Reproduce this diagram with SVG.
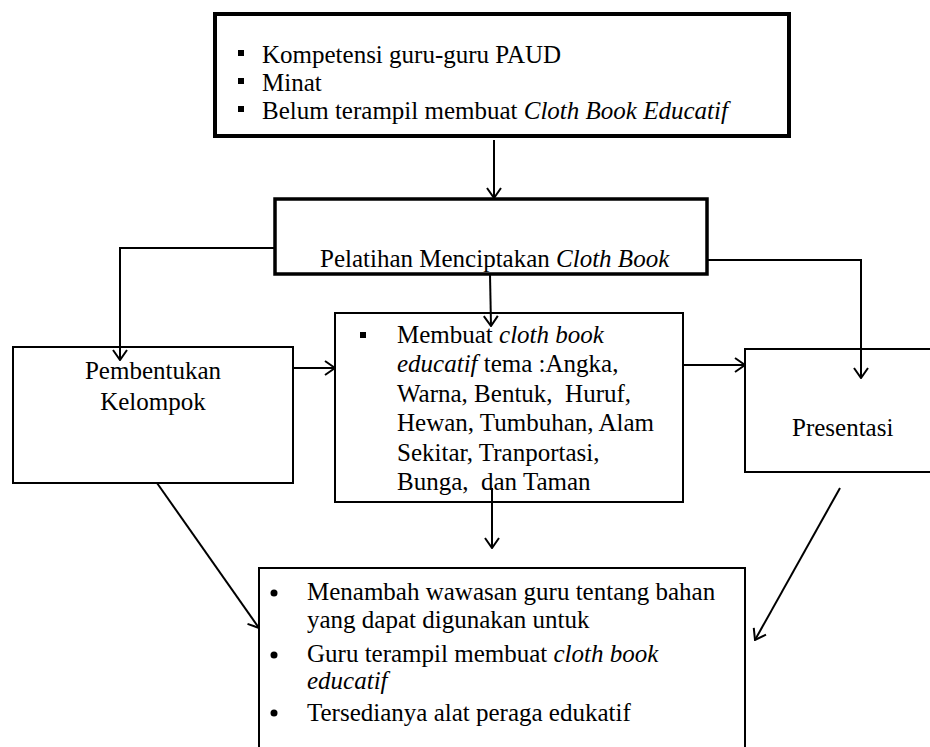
<svg xmlns="http://www.w3.org/2000/svg" width="930" height="747" viewBox="0 0 930 747">
<style>
  text { font-size: 25px; fill: #000; white-space: pre; }
  .i { font-style: italic; }
  .box { fill: #fff; stroke: #000; }
  .c { fill: none; stroke: #000; stroke-width: 2; }
</style>
<defs>
  <marker id="ah" viewBox="0 0 12 16" refX="11" refY="8" markerWidth="12" markerHeight="16" markerUnits="userSpaceOnUse" orient="auto">
    <path d="M1,1 L11,8 L1,15" fill="none" stroke="#000" stroke-width="2"/>
  </marker>
</defs>
<rect width="930" height="747" fill="#fff"/>

<g font-family="Liberation Serif">
<g id="node-masalah">
  <rect class="box" x="215" y="14" width="574" height="122" stroke-width="4"/>
  <rect x="238" y="50" width="6" height="6"/>
  <rect x="238" y="78" width="6" height="6"/>
  <rect x="238" y="106" width="6" height="6"/>
  <text x="262" y="63">Kompetensi guru-guru PAUD</text>
  <text x="262" y="91">Minat</text>
  <text x="262" y="119" xml:space="preserve">Belum terampil membuat <tspan class="i" font-family="serif">Cloth Book Educatif</tspan></text>
</g>

<g id="node-pelatihan">
  <rect class="box" x="275" y="199" width="432" height="75" stroke-width="3.5"/>
  <text x="320" y="267" xml:space="preserve">Pelatihan Menciptakan <tspan class="i" font-family="serif">Cloth Book</tspan></text>
</g>

<g id="node-pembentukan">
  <rect class="box" x="13" y="347" width="280" height="136" stroke-width="2"/>
  <text x="153" y="379" text-anchor="middle">Pembentukan</text>
  <text x="153" y="410" text-anchor="middle">Kelompok</text>
</g>

<g id="node-membuat">
  <rect class="box" x="335" y="313" width="348" height="189" stroke-width="2"/>
  <rect x="360" y="332" width="6" height="6"/>
  <text x="397" y="343" xml:space="preserve">Membuat <tspan class="i" font-family="serif">cloth book</tspan></text>
  <text x="397" y="372" xml:space="preserve"><tspan class="i" font-family="serif">educatif</tspan> tema :Angka,</text>
  <text x="397" y="402" xml:space="preserve">Warna, Bentuk,  Huruf,</text>
  <text x="397" y="431">Hewan, Tumbuhan, Alam</text>
  <text x="397" y="461">Sekitar, Tranportasi,</text>
  <text x="397" y="490" xml:space="preserve">Bunga,  dan Taman</text>
</g>

<g id="node-presentasi">
  <rect class="box" x="745" y="349" width="200" height="123" stroke-width="2"/>
  <text x="792" y="436">Presentasi</text>
</g>

<g id="node-hasil">
  <rect class="box" x="259" y="568" width="486" height="200" stroke-width="2"/>
  <circle cx="274" cy="593" r="3.5"/>
  <circle cx="274" cy="655" r="3.5"/>
  <circle cx="274" cy="713" r="3.5"/>
  <text x="307" y="600">Menambah wawasan guru tentang bahan</text>
  <text x="307" y="628">yang dapat digunakan untuk</text>
  <text x="307" y="662" xml:space="preserve">Guru terampil membuat <tspan class="i" font-family="serif">cloth book</tspan></text>
  <text class="i" font-family="serif" x="307" y="689">educatif</text>
  <text x="307" y="721">Tersedianya alat peraga edukatif</text>
</g>
</g>

<g id="connectors">
  <line class="c" x1="494" y1="140" x2="494" y2="198" marker-end="url(#ah)"/>
  <polyline class="c" points="275,248 120,248 120,360" marker-end="url(#ah)"/>
  <polyline class="c" points="707,260 861,260 861,378" marker-end="url(#ah)"/>
  <line class="c" x1="490" y1="274" x2="491" y2="326" marker-end="url(#ah)"/>
  <line class="c" x1="293" y1="368" x2="335" y2="368" stroke-width="2.5" marker-end="url(#ah)"/>
  <line class="c" x1="683" y1="365" x2="745" y2="365" stroke-width="2.5" marker-end="url(#ah)"/>
  <line class="c" x1="492" y1="488" x2="492" y2="548" marker-end="url(#ah)"/>
  <line class="c" x1="157" y1="483" x2="259" y2="628" marker-end="url(#ah)"/>
  <line class="c" x1="840" y1="488" x2="755" y2="640" marker-end="url(#ah)"/>
</g>
</svg>
